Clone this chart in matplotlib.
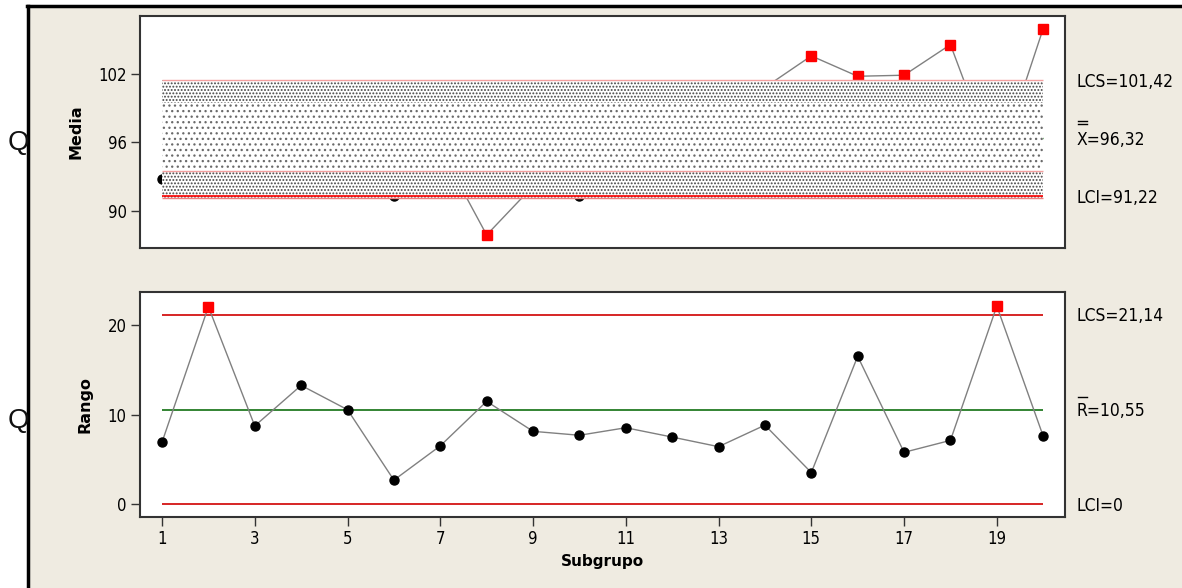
import matplotlib.pyplot as plt
import matplotlib.patches as mpatches
from matplotlib.lines import Line2D

subgroups = list(range(1, 21))
means = [92.74, 94.5, 96.8, 93.9, 95.6, 91.25, 95.4, 87.88, 92.15, 91.25,
         94.2, 95.3, 94.3, 100.78, 103.54, 101.76, 101.85, 104.53, 93.7, 105.93]
ranges = [6.92, 22.03, 8.74, 13.26, 10.55, 2.7, 6.52, 11.48, 8.14, 7.7,
          8.54, 7.5, 6.43, 8.83, 3.54, 16.5, 5.8, 7.13, 22.1, 7.6]

x_lcs, x_cl, x_lci = 101.42, 96.32, 91.22
r_lcs, r_cl, r_lci = 21.14, 10.55, 0.0

x_ticks = [1, 3, 5, 7, 9, 11, 13, 15, 17, 19]
top_yticks = [90, 96, 102]
bot_yticks = [0, 10, 20]

W, H = 1182, 588
NARROW = ['DejaVu Sans']
BEIGE = '#efebe1'
plt.rcParams['hatch.linewidth'] = 0.9


def fx(px):
    return px / W


def fy(py):
    return 1 - py / H


fig = plt.figure(figsize=(11.82, 5.88), dpi=100)
fig.patch.set_facecolor('white')

# beige panel with black frame on top/left
fig.patches.append(mpatches.Rectangle((fx(28), 0), 1, fy(7), transform=fig.transFigure,
                                      facecolor=BEIGE, edgecolor='none', zorder=-5))
fig.text(fx(8), fy(143), 'Q', fontsize=20, family=['Liberation Sans'], va='center', ha='left', color='#111111')
fig.text(fx(8), fy(421), 'Q', fontsize=20, family=['Liberation Sans'], va='center', ha='left', color='#111111')
fig.add_artist(Line2D([fx(28), fx(28)], [0, fy(6)], transform=fig.transFigure, color='black', lw=2.5))
fig.add_artist(Line2D([fx(27), 1], [fy(6), fy(6)], transform=fig.transFigure, color='black', lw=2.5))

ax1 = fig.add_axes([fx(140), fy(248), (1065 - 140) / W, (248 - 16) / H])
ax2 = fig.add_axes([fx(140), fy(517), (1065 - 140) / W, (517 - 292) / H])


def out_flags(vals, lo, hi):
    return [v > hi or v < lo for v in vals]


for ax in (ax1, ax2):
    ax.set_xlim(0.5255, 20.47)
    ax.set_facecolor('white')
    for s in ax.spines.values():
        s.set_color('#333333')
        s.set_linewidth(1.5)
    ax.tick_params(direction='out', length=6.5, width=1, color='#333333', labelsize=12, pad=3)

# --- X-bar chart ---
ax1.set_ylim(86.74, 107.03)
ax1.plot(subgroups, means, color='#808080', lw=1, zorder=2)
flags = out_flags(means, x_lci, x_lcs)
ax1.plot([s for s, f in zip(subgroups, flags) if not f], [m for m, f in zip(means, flags) if not f],
         'o', color='black', ms=6.5, zorder=3)
ax1.plot([s for s, f in zip(subgroups, flags) if f], [m for m, f in zip(means, flags) if f],
         's', color='#ff0000', ms=6.5, zorder=3)
ax1.hlines(x_cl, 1, 20, color='#107010', lw=1, zorder=1)

# dotted overlay band
ax1.add_patch(mpatches.Rectangle((1, 99.38), 19, x_lcs - 99.38, facecolor='white', edgecolor='#444444',
                                 hatch='.....', lw=0, zorder=4))
ax1.add_patch(mpatches.Rectangle((1, 93.47), 19, 99.38 - 93.47, facecolor='white', edgecolor='#6a6a6a',
                                 hatch='...', lw=0, zorder=4))
ax1.add_patch(mpatches.Rectangle((1, 91.15), 19, 93.47 - 91.15, facecolor='white', edgecolor='#444444',
                                 hatch='.....', lw=0, zorder=4))
ax1.hlines([x_lcs, 93.47], 1, 20, color='#f4a0a0', lw=1, zorder=5)
ax1.hlines(91.3, 1, 20, color='#ff0000', lw=1.2, zorder=5)
ax1.hlines(91.15, 1, 20, color='#f08080', lw=1, zorder=5)

ax1.set_xticks([])
ax1.set_yticks(top_yticks)
ax1.set_yticklabels([str(t) for t in top_yticks], family=NARROW, fontstretch='condensed')
ax1.set_ylabel('Media', fontsize=11.5, fontweight='bold', labelpad=11)

# --- R chart ---
ax2.set_ylim(-1.41, 23.67)
ax2.plot(subgroups, ranges, color='#808080', lw=1, zorder=2)
rflags = out_flags(ranges, r_lci, r_lcs)
ax2.plot([s for s, f in zip(subgroups, rflags) if not f], [r for r, f in zip(ranges, rflags) if not f],
         'o', color='black', ms=6.5, zorder=3)
ax2.plot([s for s, f in zip(subgroups, rflags) if f], [r for r, f in zip(ranges, rflags) if f],
         's', color='#ff0000', ms=6.5, zorder=3)
ax2.hlines([r_lcs, r_lci], 1, 20, color='#d00000', lw=1.2, zorder=1)
ax2.hlines(r_cl, 1, 20, color='#107010', lw=1.2, zorder=1)

ax2.set_xticks(x_ticks)
ax2.set_xticklabels([str(t) for t in x_ticks], family=NARROW, fontstretch='condensed')
ax2.set_yticks(bot_yticks)
ax2.set_yticklabels([str(t) for t in bot_yticks], family=NARROW, fontstretch='condensed')
ax2.set_ylabel('Rango', fontsize=11.5, fontweight='bold', labelpad=11)
ax2.set_xlabel('Subgrupo', fontsize=11, fontweight='bold', labelpad=4)

# right-hand limit labels
lx = fx(1077)
kw = dict(fontsize=12.5, family=NARROW, fontstretch='condensed', va='center', ha='left')
fig.text(lx, fy(82), 'LCS=101,42', **kw)
fig.text(lx, fy(140), 'X=96,32', **kw)
fig.text(lx, fy(198), 'LCI=91,22', **kw)
fig.text(lx, fy(316), 'LCS=21,14', **kw)
fig.text(lx, fy(411), 'R=10,55', **kw)
fig.text(lx, fy(506), 'LCI=0', **kw)
for yy in (121, 124, 397):
    fig.add_artist(Line2D([fx(1078), fx(1087)], [fy(yy), fy(yy)],
                          transform=fig.transFigure, color='black', lw=1))

fig.savefig('out.png', dpi=100, facecolor=fig.get_facecolor())
